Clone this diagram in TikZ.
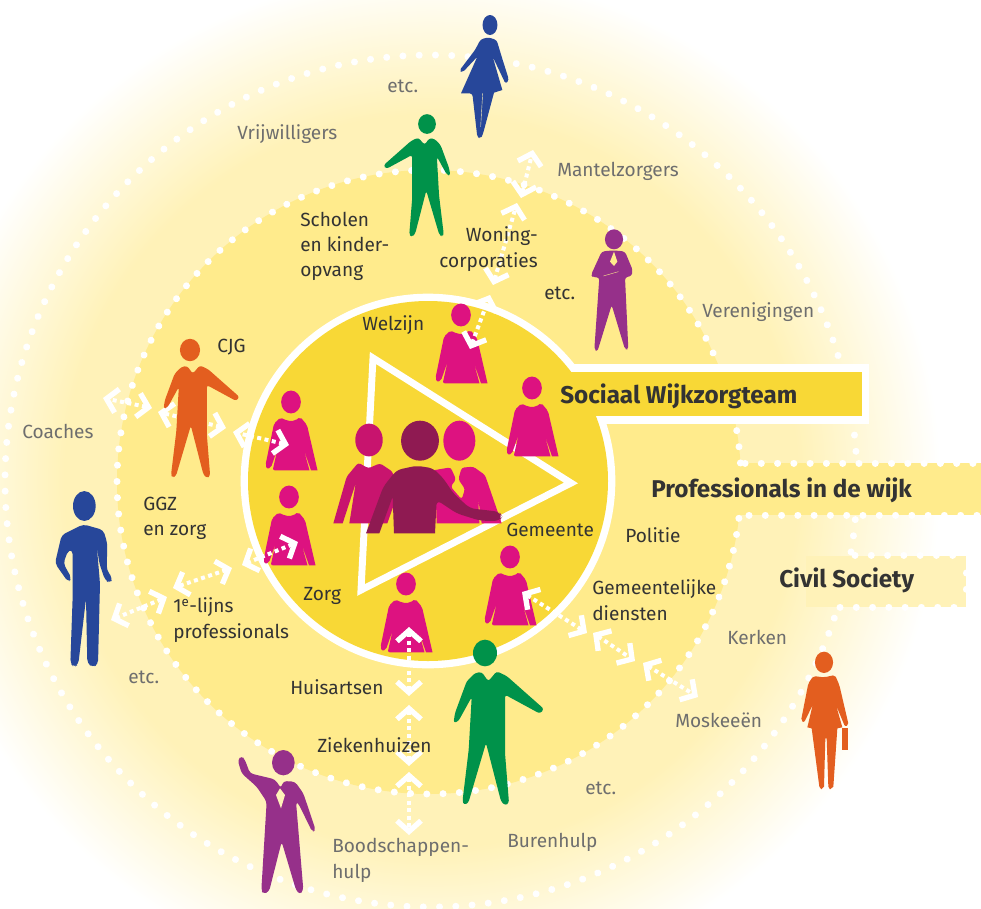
\documentclass[tikz,border=0pt]{standalone}
\usepackage{fontspec}
\setmainfont{Fira Sans}
\usetikzlibrary{arrows.meta}
\definecolor{cream}{HTML}{FFF2B8}
\definecolor{midy}{HTML}{FFEB8C}
\definecolor{core}{HTML}{F8D836}
\definecolor{txtd}{HTML}{333333}
\definecolor{txtg}{HTML}{6E6E6E}
\definecolor{mag}{HTML}{DD1280}
\definecolor{magd}{HTML}{C8146E}
\definecolor{plum}{HTML}{8F1A52}
\definecolor{fpurple}{HTML}{96308A}
\definecolor{fgreen}{HTML}{00924A}
\definecolor{fblue}{HTML}{27479A}
\definecolor{forange}{HTML}{E35E1F}
\pgfdeclareradialshading{glow}{\pgfpoint{0bp}{0bp}}{color(0bp)=(cream); color(18bp)=(cream); color(25bp)=(white); color(50bp)=(white)}
\tikzset{
  zA/.style={shift={(240,290)},x=.25pt,y=-.25pt},
  zB/.style={shift={(640,340)},x=.25pt,y=-.25pt},
  zC/.style={shift={(360,0)},x=.25pt,y=-.25pt},
  zD/.style={shift={(200,620)},x=.25pt,y=-.25pt},
  zE/.style={shift={(0,330)},x=.25pt,y=-.25pt},
  zF/.style={shift={(480,570)},x=.25pt,y=-.25pt},
  dotline/.style={white,line width=5.25pt,line cap=round,dash pattern=on 0.01pt off 12.2pt},
  link/.style={white,line width=3pt,dash pattern=on 3pt off 2.6pt,
    {Straight Barb[length=8pt,width=18pt,line width=4pt]}-{Straight Barb[length=8pt,width=18pt,line width=4pt]}},
  lab/.style={inner sep=0pt,anchor=west,align=left,text=txtd,font=\fontsize{14.3}{19}\selectfont,
    execute at begin node=\strut,execute at end node=\strut},
  labg/.style={lab,text=txtg},
  ban/.style={inner sep=0pt,anchor=west,text=txtd,font=\fontsize{18.2}{22}\selectfont\bfseries},
  fig/.style={rounded corners=2pt,line width=0pt},
}
\newcommand\smallwoman[2]{%
  \begin{scope}[shift={(#1,#2)}]
    \fill[mag] (0,0) ellipse [x radius=7.4pt,y radius=8.6pt];
    \fill[mag,rounded corners=1.5pt] (0,19) -- (-4,18.6) -- (-10.7,15.5) -- (-17,21.7) -- (-25.5,63) -- (-24,67) -- (-20,65.5) -- (-13.4,46.5) -- (-18.3,68.3) [sharp corners] -- (18.5,68.3) -- (12.3,46) -- (20,68.3) -- (26.5,68.3) [rounded corners=1.5pt] -- (16,23) -- (9.3,15) -- (4,18.6) -- cycle;
  \end{scope}}
\newcommand\man[4]{% x y scale colour
  \begin{scope}[shift={(#1,#2)},xscale=#3,yscale=#3]
    \fill[#4] (0,0) ellipse [x radius=9pt,y radius=10pt];
    \fill[#4,rounded corners=2pt] (3.3,28.3) -- (11.7,18.3) -- (21.7,23) -- (59,56) -- (55,60.7) -- (20,41.7) -- (20,100) -- (24,150) -- (20,152.5) -- (16,148.3) -- (1,90) -- (-16.7,150) -- (-21,152) -- (-22.5,148) -- (-16.3,96.7) -- (-13.3,44) -- (-26.7,68.3) -- (-31.5,70) -- (-30,60) -- (-18.3,28.3) -- (-10,20) -- (-3.3,19) -- cycle;
  \end{scope}}
\begin{document}
\begin{tikzpicture}[x=.75pt,y=-.75pt]
\path[use as bounding box] (0,0) rectangle (981,908);
\clip (0,0) rectangle (981,908);
% background glow and outer ring
\shade[shading=glow] (431,481) circle (382pt);
\fill[cream] (806,556) rectangle (966,607);
\draw[dotline] plot[domain=4:343,samples=400] ({431+426*cos(\x)},{481-426*sin(\x)});
\draw[dotline] plot[domain=354.8:350.4,samples=20] ({431+426*cos(\x)},{481-426*sin(\x)});
% middle ring
\fill[midy] (429,482) circle (234pt);
\fill[midy] (736,463) rectangle (981,515);
\draw[dotline] plot[domain=3.5:353.5,samples=400] ({429+312*cos(\x)},{482-312*sin(\x)});
% banner dotted edges
\coordinate (pa) at (745,463); \coordinate (pb) at (981,463);
\coordinate (pc) at (749,515); \coordinate (pd) at (981,515);
\coordinate (ca) at (855,555); \coordinate (cb) at (966,555);
\coordinate (cc) at (840,607); \coordinate (cd) at (966,607);
\coordinate (ce) at (966,573); \coordinate (cf) at (966,592);
\draw[dotline] (pa) -- (pb);
\draw[dotline] (pc) -- (pd);
\draw[dotline] (ca) -- (cb);
\draw[dotline] (cc) -- (cd);
\draw[dotline] (ce) -- (cf);
% core disk with banner
\fill[white] (428,481) circle (140.5pt);
\fill[white] (560,364) rectangle (869,424);
\fill[core] (428,481) circle (135pt);
\fill[core] (560,372) rectangle (862,416);
% triangle
\draw[white,line width=5.2pt,miter limit=10] (373,358) -- (571,483) -- (361,590) -- cycle;
% arrow end points
\coordinate (n1a) at (470,349); \coordinate (n1b) at (490,295);
\coordinate (n2a) at (493,285); \coordinate (n2b) at (517,203);
\coordinate (n3a) at (521,198); \coordinate (n3b) at (533,150);
\coordinate (w1a) at (289,445); \coordinate (w1b) at (233,432);
\coordinate (w2a) at (226,428); \coordinate (w2b) at (158,412);
\coordinate (w3a) at (152,408); \coordinate (w3b) at (103,398);
\coordinate (s1a) at (298,542); \coordinate (s1b) at (242,565);
\coordinate (s2a) at (232,568); \coordinate (s2b) at (173,588);
\coordinate (s3a) at (167,597); \coordinate (s3b) at (111,620);
\coordinate (b1a) at (409,627); \coordinate (b1b) at (409,696);
\coordinate (b2a) at (409,705); \coordinate (b2b) at (409,766);
\coordinate (b3a) at (409,772); \coordinate (b3b) at (409,835);
\coordinate (e1a) at (522,592); \coordinate (e1b) at (587,633);
\coordinate (e2a) at (593,633); \coordinate (e2b) at (635,661);
\coordinate (e3a) at (643,663); \coordinate (e3b) at (698,697);
% small women
\smallwoman{461}{315}
\smallwoman{532}{388}
\smallwoman{291}{402}
\smallwoman{289}{497}
\smallwoman{406}{584}
\smallwoman{510}{557}
% connectors
\foreach \p/\q in {n1a/n1b,n2a/n2b,n3a/n3b,w1a/w1b,w2a/w2b,w3a/w3b,s1a/s1b,s2a/s2b,s3a/s3b,b1a/b1b,b2a/b2b,b3a/b3b,e1a/e1b,e2a/e2b,e3a/e3b}
  \draw[link] (\p) -- (\q);
% central group
\begin{scope}[zA]
  \fill[magd] (387,450) ellipse [x radius=10.3pt,y radius=12.3pt];
  \fill[magd,rounded corners=2pt] (385,535) -- (420,520) -- (458,545) -- (470,620) [sharp corners] -- (442,700) -- (328,700) -- (347,580) -- (308,700) -- (280,700) [rounded corners=2pt] -- (320,560) -- (355,518) -- cycle;
  \fill[mag] (658,452) ellipse [x radius=12pt,y radius=15pt];
  \fill[mag,rounded corners=2pt] (585,540) -- (632,532) -- (648,568) -- (632,590) -- (665,628) -- (675,597) -- (655,568) -- (665,533) -- (700,530) -- (735,555) [sharp corners] -- (785,700) -- (725,700) -- (715,628) -- (718,700) -- (590,700) -- cycle;
  \fill[plum] (540,452) ellipse [x radius=14.2pt,y radius=15pt];
  \fill[plum,rounded corners=4pt] (530,527) -- (580,535) -- (610,565) -- (640,610) -- (690,655) -- (778,665) -- (787,680) -- (778,693) -- (720,692) -- (650,670) -- (590,630) [sharp corners] -- (585,730) -- (462,730) -- (458,620) -- (418,730) -- (378,730) [rounded corners=4pt] -- (430,590) -- (470,540) -- cycle;
\end{scope}
% large figures
\man{485}{653}{1}{fgreen}
\man{190}{350}{.84}{forange}
\begin{scope}[xscale=-1,shift={(-427,124)}]
  \man{0}{0}{.74}{fgreen}
\end{scope}
% top blue woman
\begin{scope}[zC]
  \fill[fblue] (390,75) ellipse [x radius=5.6pt,y radius=7.5pt];
  \fill[fblue,rounded corners=2pt] (385,112) -- (410,120) -- (425,170) -- (447,240) -- (437,252) -- (398,170) [sharp corners] -- (427,270) -- (402,278) [rounded corners=2pt] -- (368,405) -- (362,415) -- (352,412) -- (337,280) [sharp corners] -- (303,280) -- (352,170) [rounded corners=2pt] -- (308,217) -- (298,212) -- (345,150) -- (362,118) -- cycle;
  \draw[cream,line width=.3pt] (368,280) -- (362,380);
  % purple man with crossed hands
  \fill[fpurple] (762,718) ellipse [x radius=6.8pt,y radius=7.5pt];
  \fill[fpurple,rounded corners=2pt] (745,752) -- (725,755) -- (693,825) -- (700,832) -- (718,832) -- (703,1048) -- (712,1055) -- (755,915) -- (795,1048) -- (805,1048) -- (795,832) -- (815,828) -- (818,810) -- (795,755) -- (775,752) -- cycle;
  \fill[midy] (762,755) -- (772,785) -- (762,798) -- (750,785) -- cycle;
  \draw[midy,line width=.3pt] (730,828) -- (775,815);
\end{scope}
% waving purple man
\begin{scope}[zD]
  \fill[fpurple] (250,428) ellipse [x radius=8.5pt,y radius=9.5pt];
  \fill[fpurple,rounded corners=2.5pt] (113,420) -- (125,407) -- (135,420) -- (150,460) -- (225,478) -- (243,505) -- (250,483) -- (285,485) -- (310,520) -- (347,630) -- (337,636) -- (295,550) -- (288,545) -- (310,810) -- (300,824) -- (288,810) -- (245,665) -- (207,815) -- (190,822) -- (184,810) -- (200,545) -- (170,500) -- (125,460) -- cycle;
  \fill[cream] (240,505) -- (255,525) -- (243,565) -- (228,525) -- cycle;
\end{scope}
% blue man
\begin{scope}[zE]
  \fill[fblue] (253,528) ellipse [x radius=8.5pt,y radius=11.2pt];
  \fill[fblue,rounded corners=3pt] (250,583) -- (310,600) -- (322,640) -- (320,720) -- (338,745) -- (330,760) -- (315,750) -- (298,700) -- (290,645) -- (300,760) -- (294,1003) -- (278,1012) -- (262,1000) -- (258,805) -- (235,1003) -- (222,1012) -- (211,1000) -- (218,800) -- (218,660) -- (205,660) -- (190,700) -- (215,745) -- (205,757) -- (165,700) -- (185,615) -- cycle;
\end{scope}
% orange woman
\begin{scope}[zF]
  \fill[forange] (1032,277) ellipse [x radius=6.8pt,y radius=8pt];
  \fill[forange,rounded corners=1.5pt] (1032,322) -- (1065,315) -- (1078,345) -- (1106,465) -- (1095,470) -- (1068,405) [sharp corners] -- (1087,472) -- (1072,475) -- (1060,650) -- (1050,658) -- (1045,650) -- (1040,505) -- (1036,505) -- (1032,650) -- (1024,658) -- (1018,650) -- (995,475) -- (982,472) -- (998,405) [rounded corners=1.5pt] -- (972,458) -- (963,452) -- (985,340) -- (1000,318) -- cycle;
  \fill[forange] (1085,475) rectangle (1103,540);
\end{scope}
% labels
\node[labg] (t1) at (387,87) {etc.};
\node[labg] (t2) at (237,134) {Vrijwilligers};
\node[labg] (t3) at (557,171) {Mantelzorgers};
\node[lab] (t4) at (300,248) {Scholen\\en kinder-\\opvang};
\node[lab,anchor=east,align=right] (t5) at (538,251) {Woning-\\corporaties};
\node[lab] (t6) at (544,294) {etc.};
\node[labg] (t7) at (702,312) {Verenigingen};
\node[lab] (t8) at (362,325) {Welzijn};
\node[lab] (t9) at (217,347) {CJG};
\node[labg] (t10) at (22,433) {Coaches};
\node[lab] (t11) at (143,520) {GGZ\\en zorg};
\node[lab] (t12) at (506,531) {Gemeente};
\node[lab] (t13) at (625,537) {Politie};
\node[lab] (t14) at (592,604) {Gemeentelijke\\diensten};
\node[labg] (t15) at (727,639) {Kerken};
\node[labg] (t16) at (675,722) {Moskeeën};
\node[lab] (t17) at (303,595) {Zorg};
\node[lab] (t18) at (173,622) {1\textsuperscript{e}-lijns\\professionals};
\node[labg] (t19) at (128,678) {etc.};
\node[lab] (t20) at (290,689) {Huisartsen};
\node[lab] (t21) at (317,747) {Ziekenhuizen};
\node[labg] (t22) at (585,789) {etc.};
\node[labg] (t23) at (507,842) {Burenhulp};
\node[labg] (t24) at (332,862) {Boodschappen-\\hulp};
\node[ban] (b1) at (560,396) {Sociaal Wijkzorgteam};
\node[ban] (b2) at (651,490) {Professionals in de wijk};
\node[ban] (b3) at (779,580) {Civil Society};
\end{tikzpicture}
\end{document}
